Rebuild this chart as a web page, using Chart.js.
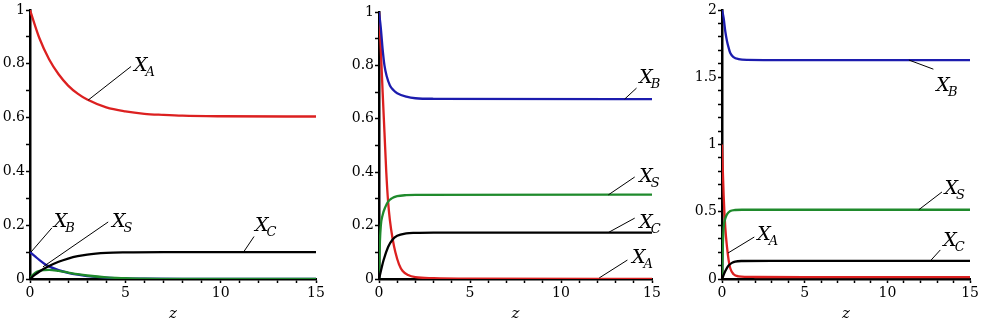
<!DOCTYPE html>
<html>
<head>
<meta charset="utf-8">
<script src="https://cdn.jsdelivr.net/npm/chart.js@4"></script>
<style>
  html, body { margin: 0; padding: 0; background: #fff; overflow: hidden; }
  #wrap { position: relative; width: 981px; height: 323px; }
  .panel { position: absolute; top: 0; height: 323px; }
</style>
</head>
<body>
<div id="wrap">
  <div class="panel" style="left:0;width:330px"><canvas id="c1"></canvas></div>
  <div class="panel" style="left:340px;width:330px"><canvas id="c2"></canvas></div>
  <div class="panel" style="left:680px;width:301px"><canvas id="c3"></canvas></div>
</div>
<script>
// panel 1
const zA1 = [0, 0.5, 1, 1.5, 2, 2.5, 3, 4, 5, 6, 7, 8, 10, 15];
const xA1 = [1, 0.894, 0.817, 0.761, 0.719, 0.689, 0.667, 0.638, 0.623, 0.614, 0.61, 0.607, 0.605, 0.604];
const zB1 = [0, 0.25, 0.5, 0.75, 1, 1.5, 2, 2.5, 3, 4, 5, 6, 8, 15];
const xB1 = [0.1, 0.085, 0.07, 0.057, 0.047, 0.033, 0.023, 0.016, 0.011, 0.005, 0.002, 0.001, 0, 0];
const zS1 = [0, 0.1, 0.25, 0.5, 0.75, 1, 1.5, 2, 2.5, 3, 4, 5, 6, 8, 15];
const xS1 = [0, 0.012, 0.022, 0.03, 0.033, 0.034, 0.03, 0.024, 0.018, 0.013, 0.006, 0.003, 0.001, 0, 0];
const zC1 = [0, 0.25, 0.5, 1, 1.5, 2, 2.5, 3, 4, 5, 7, 15];
const xC1 = [0, 0.015, 0.028, 0.048, 0.064, 0.076, 0.085, 0.091, 0.097, 0.099, 0.1, 0.1];

// panel 2
const zA2 = [0, 0.1, 0.2, 0.3, 0.4, 0.5, 0.6, 0.75, 0.9, 1.1, 1.3, 1.6, 2, 3, 5, 15];
const xA2 = [1, 0.86, 0.7, 0.55, 0.4, 0.29, 0.22, 0.15, 0.1, 0.055, 0.03, 0.015, 0.007, 0.003, 0.001, 0];
const zB2 = [0, 0.1, 0.2, 0.3, 0.42, 0.6, 0.8, 1, 1.5, 2, 3, 15];
const xB2 = [1, 0.94, 0.86, 0.8, 0.76, 0.725, 0.707, 0.696, 0.683, 0.677, 0.675, 0.674];
const zS2 = [0, 0.05, 0.1, 0.2, 0.35, 0.5, 0.7, 1, 1.5, 2, 15];
const xS2 = [0, 0.14, 0.2, 0.24, 0.27, 0.29, 0.302, 0.31, 0.314, 0.315, 0.316];
const zC2 = [0, 0.25, 0.5, 0.75, 1, 1.5, 2, 3, 15];
const xC2 = [0, 0.07, 0.12, 0.148, 0.162, 0.171, 0.173, 0.174, 0.174];

// panel 3
const zA3 = [0, 0.1, 0.2, 0.3, 0.4, 0.5, 0.7, 1, 2, 5, 15];
const xA3 = [1, 0.62, 0.38, 0.24, 0.14, 0.08, 0.035, 0.02, 0.015, 0.014, 0.014];
const zB3 = [0, 0.1, 0.2, 0.3, 0.4, 0.5, 0.7, 1, 1.5, 3, 15];
const xB3 = [2, 1.94, 1.84, 1.77, 1.72, 1.68, 1.65, 1.635, 1.629, 1.628, 1.628];
const zS3 = [0, 0.05, 0.1, 0.2, 0.3, 0.5, 0.8, 1.2, 3, 15];
const xS3 = [0, 0.25, 0.38, 0.45, 0.48, 0.505, 0.513, 0.515, 0.515, 0.515];
const zC3 = [0, 0.2, 0.4, 0.6, 0.8, 1.2, 3, 15];
const xC3 = [0, 0.06, 0.1, 0.12, 0.13, 0.134, 0.135, 0.135];

const xTickLabels = [0, 5, 10, 15];

// curve labels: leader line from -> to, text at (data coords)
const notes1 = [
  { sub: 'A', from: [3.05, 0.665], to: [5.3, 0.79], at: [5.45, 0.772] },
  { sub: 'B', from: [0.05, 0.1], to: [1.15, 0.19], at: [1.25, 0.193] },
  { sub: 'S', from: [0.68, 0.045], to: [4.1, 0.212], at: [4.3, 0.193] },
  { sub: 'C', from: [11.2, 0.1], to: [11.75, 0.158], at: [11.8, 0.178] }
];
const notes2 = [
  { sub: 'B', from: [13.5, 0.674], to: [14.15, 0.715], at: [14.3, 0.734] },
  { sub: 'S', from: [12.6, 0.315], to: [14.05, 0.382], at: [14.3, 0.362] },
  { sub: 'C', from: [12.6, 0.174], to: [14.05, 0.228], at: [14.3, 0.19] },
  { sub: 'A', from: [12.1, 0.004], to: [13.65, 0.071], at: [13.9, 0.06] }
];
const notes3 = [
  { sub: 'B', from: [11.3, 1.628], to: [12.78, 1.56], at: [12.96, 1.4] },
  { sub: 'S', from: [11.9, 0.515], to: [13.3, 0.647], at: [13.45, 0.632] },
  { sub: 'C', from: [12.6, 0.135], to: [13.2, 0.216], at: [13.37, 0.245] },
  { sub: 'A', from: [0.36, 0.193], to: [1.95, 0.312], at: [2.13, 0.29] }
];

const RED = '#dc2020', BLUE = '#1c1cae', GREEN = '#1f8a2c', BLACK = '#000000';
const SERIF = "'DejaVu Serif', serif";

const pts = (zs, vs) => zs.map((z, i) => ({ x: z, y: vs[i] }));

const series = (zs, vs, color) => ({
  data: pts(zs, vs),
  borderColor: color,
  borderWidth: 2.3,
  pointRadius: 0,
  fill: false,
  cubicInterpolationMode: 'monotone'
});

const notePlugin = (notes) => ({
  id: 'notes',
  afterDatasetsDraw(chart) {
    const { ctx, scales: { x, y } } = chart;
    ctx.save();
    ctx.strokeStyle = '#000';
    ctx.fillStyle = '#000';
    ctx.lineWidth = 1;
    notes.forEach(n => {
      ctx.beginPath();
      ctx.moveTo(x.getPixelForValue(n.from[0]), y.getPixelForValue(n.from[1]));
      ctx.lineTo(x.getPixelForValue(n.to[0]), y.getPixelForValue(n.to[1]));
      ctx.stroke();
      const tx = x.getPixelForValue(n.at[0]);
      const ty = y.getPixelForValue(n.at[1]);
      ctx.font = 'italic 19px ' + SERIF;
      ctx.textBaseline = 'alphabetic';
      ctx.fillText('X', tx, ty);
      const w = ctx.measureText('X').width;
      ctx.font = 'italic 13px ' + SERIF;
      ctx.fillText(n.sub, tx + w - 2, ty + 5);
    });
    ctx.restore();
  }
});

const makeChart = (id, sets, notes, opt) => new Chart(document.getElementById(id), {
  type: 'line',
  data: { datasets: sets },
  plugins: [notePlugin(notes)],
  options: {
    responsive: true,
    maintainAspectRatio: false,
    animation: false,
    layout: { padding: { top: opt.top, right: opt.right, left: 0, bottom: 0 } },
    plugins: { legend: { display: false }, tooltip: { enabled: false } },
    scales: {
      x: {
        type: 'linear',
        min: 0,
        max: 15,
        afterFit: s => { s.height = 44; },
        border: { color: '#000', width: 2.5 },
        grid: { drawOnChartArea: false, color: '#000', tickLength: 4, tickWidth: 1.5 },
        ticks: {
          stepSize: 1,
          autoSkip: false,
          maxRotation: 0,
          color: '#000',
          padding: 2,
          font: { family: SERIF, size: 14 },
          callback: v => xTickLabels.includes(v) ? String(v) : ''
        },
        title: {
          display: true,
          text: 'z',
          color: '#000',
          padding: { top: 0, bottom: 0 },
          font: { family: SERIF, size: 15, style: 'italic' }
        }
      },
      y: {
        min: 0,
        max: opt.ymax,
        afterFit: s => { s.width = opt.yw; },
        border: { color: '#000', width: 2.5 },
        grid: { drawOnChartArea: false, color: '#000', tickLength: 4, tickWidth: 1.5 },
        ticks: {
          stepSize: 0.1,
          autoSkip: false,
          color: '#000',
          padding: 1,
          font: { family: SERIF, size: 14 },
          callback: v => {
            const k = Math.round(v * 10);
            return k % opt.major === 0 ? String(k / 10) : '';
          }
        }
      }
    }
  }
});

makeChart('c1', [
  series(zA1, xA1, RED),
  series(zC1, xC1, BLACK),
  series(zS1, xS1, GREEN),
  series(zB1, xB1, BLUE)
], notes1, { top: 10, right: 14, yw: 30, ymax: 1, major: 2 });

makeChart('c2', [
  series(zC2, xC2, BLACK),
  series(zS2, xS2, GREEN),
  series(zB2, xB2, BLUE),
  series(zA2, xA2, RED)
], notes2, { top: 12, right: 18, yw: 39, ymax: 1, major: 2 });

makeChart('c3', [
  series(zC3, xC3, BLACK),
  series(zB3, xB3, BLUE),
  series(zS3, xS3, GREEN),
  series(zA3, xA3, RED)
], notes3, { top: 10, right: 8, yw: 42, ymax: 2, major: 5 });
</script>
</body>
</html>
